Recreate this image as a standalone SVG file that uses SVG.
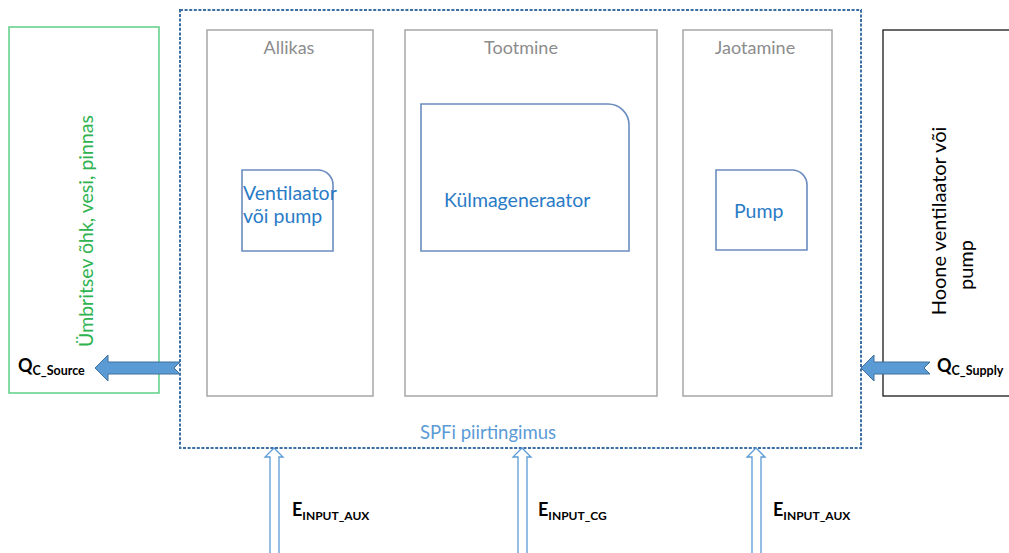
<svg xmlns="http://www.w3.org/2000/svg" width="1009" height="553" viewBox="0 0 1009 553">
  <style>
    .txt { font-family: "Lato", "Open Sans", "Liberation Sans", sans-serif; }
    .col { fill: #ffffff; stroke: #a6a6a6; stroke-width: 1.5; }
    .colTitle { font-size: 18px; fill: #8c8c8c; text-anchor: middle; }
    .unit { fill: #ffffff; stroke: #6a8cbf; stroke-width: 1.6; }
    .unitText { font-size: 19.5px; fill: #2a7bc6; }
    .fat { fill: #5b9bd5; stroke: #41719c; stroke-width: 1; }
    .hollow { fill: #ffffff; stroke: #5b9bd5; stroke-width: 1.3; }
    .lbl { font-weight: bold; fill: #000000; }
  </style>

  <rect width="1009" height="553" fill="#ffffff"/>

  <!-- ambient source -->
  <g id="ambient">
    <rect x="9" y="27" width="150" height="366" fill="#ffffff" stroke="#5ccf86" stroke-width="1.5"/>
    <text class="txt" x="85" y="231" transform="rotate(-90 85 231)" font-size="19.5" fill="#2fb350" text-anchor="middle" dominant-baseline="central">Ümbritsev õhk, vesi, pinnas</text>
  </g>

  <!-- building side -->
  <g id="building">
    <rect x="883" y="30" width="140" height="366" fill="#ffffff" stroke="#1a1a1a" stroke-width="1.3"/>
    <text class="txt" x="938" y="221" transform="rotate(-90 938 221)" font-size="20" fill="#000000" text-anchor="middle" dominant-baseline="central">Hoone ventilaator või</text>
    <text class="txt" x="965" y="265" transform="rotate(-90 965 265)" font-size="20" fill="#000000" text-anchor="middle" dominant-baseline="central">pump</text>
  </g>

  <!-- SPF boundary -->
  <g id="boundary">
    <rect x="180" y="10" width="681" height="438" fill="none" stroke="#3a6ea5" stroke-width="2" stroke-dasharray="3 1.6"/>
    <text class="txt" x="488" y="439" font-size="18.5" fill="#5b9bd5" text-anchor="middle">SPFi piirtingimus</text>
  </g>

  <!-- source column -->
  <g id="source">
    <rect class="col" x="207" y="30" width="166" height="366"/>
    <text class="txt colTitle" x="289" y="54">Allikas</text>
  </g>
  <g id="source-fan">
    <path class="unit" d="M242 170 H318 A15 15 0 0 1 333 185 V251 H242 Z"/>
    <text class="txt unitText" x="243" y="200">Ventilaator</text>
    <text class="txt unitText" x="243" y="223">või pump</text>
  </g>

  <!-- generation column -->
  <g id="generation">
    <rect class="col" x="405" y="30" width="252" height="366"/>
    <text class="txt colTitle" x="521" y="54">Tootmine</text>
  </g>
  <g id="chiller">
    <path class="unit" d="M421 104 H608 A21 21 0 0 1 629 125 V251 H421 Z"/>
    <text class="txt unitText" x="444" y="207">Külmageneraator</text>
  </g>

  <!-- distribution column -->
  <g id="distribution">
    <rect class="col" x="683" y="30" width="149" height="366"/>
    <text class="txt colTitle" x="755" y="54">Jaotamine</text>
  </g>
  <g id="dist-pump">
    <path class="unit" d="M716 170 H792 A15 15 0 0 1 807 185 V250 H716 Z"/>
    <text class="txt unitText" x="734" y="218">Pump</text>
  </g>

  <!-- energy flows -->
  <g id="connectors">
    <polygon class="fat" points="95,368 108,355 108,362 180,362 174,368 180,374 108,374 108,381"/>
    <polygon class="fat" points="861,368 874,355 874,362 930,362 924,368 930,374 874,374 874,381"/>
    <polygon class="hollow" points="274,448 265,457 270,457 270,556 279,556 279,457 283,457"/>
    <polygon class="hollow" points="522,448 513,457 518,457 518,556 527,556 527,457 531,457"/>
    <polygon class="hollow" points="756,448 747,457 752,457 752,556 761,556 761,457 765,457"/>
  </g>

  <!-- flow labels -->
  <g id="labels" class="txt">
    <text class="lbl" x="18" y="372" font-size="18">Q<tspan font-size="12.5" dy="3">C_Source</tspan></text>
    <text class="lbl" x="937" y="372" font-size="18">Q<tspan font-size="12.5" dy="3">C_Supply</tspan></text>
    <text class="lbl" x="292" y="516" font-size="18">E<tspan font-size="12" dy="4">INPUT_AUX</tspan></text>
    <text class="lbl" x="538" y="516" font-size="18">E<tspan font-size="12" dy="4">INPUT_CG</tspan></text>
    <text class="lbl" x="773" y="516" font-size="18">E<tspan font-size="12" dy="4">INPUT_AUX</tspan></text>
  </g>
</svg>
